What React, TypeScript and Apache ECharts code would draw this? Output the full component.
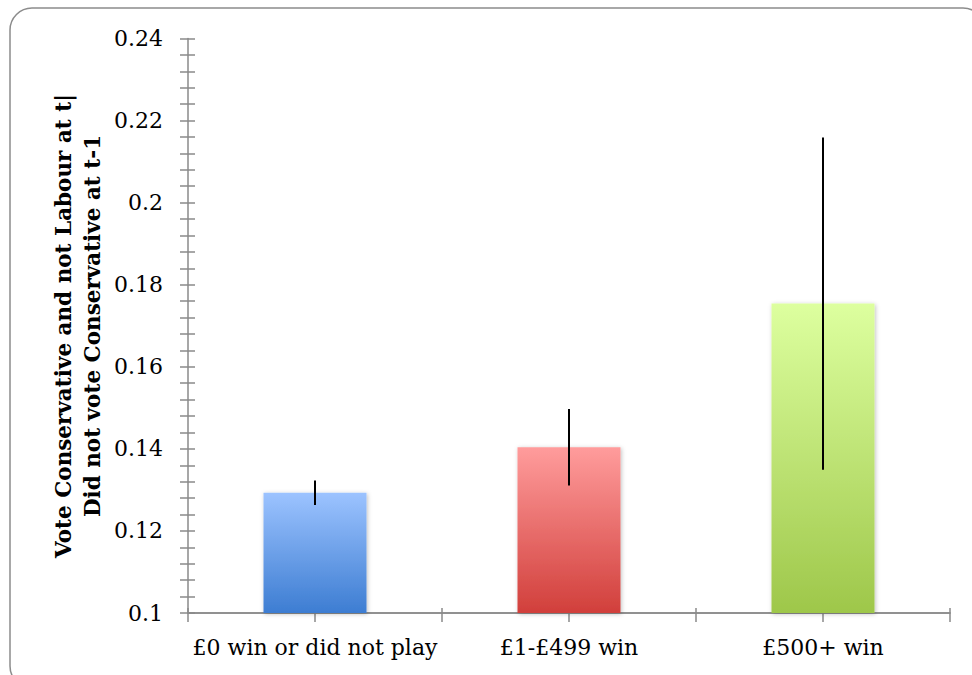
import React, { useEffect, useRef } from "react";
import * as echarts from "echarts";

const categories = ["£0 win or did not play", "£1-£499 win", "£500+ win"];
const values = [0.1293, 0.1404, 0.1754];
const errors = [0.003, 0.0093, 0.0405];
const topColors = ["#9CC3FF", "#FF9C9C", "#DDFF9F"];
const bottomColors = ["#3D7DD2", "#D13F3B", "#9EC74A"];
const yTitle = "Vote Conservative and not Labour at t|\nDid not vote Conservative at t-1";

const FONT = "DejaVu Serif";
const GREY = "#8a8a8a";

export default function App() {
  const ref = useRef<HTMLDivElement>(null);
  useEffect(() => {
    const chart = echarts.init(ref.current!, null, { renderer: "svg" });
    const barData = values.map((v, i) => ({
      value: v,
      itemStyle: {
        color: new echarts.graphic.LinearGradient(0, 0, 0, 1, [
          { offset: 0, color: topColors[i] },
          { offset: 1, color: bottomColors[i] },
        ]),
        shadowBlur: 4,
        shadowColor: "rgba(0,0,0,0.25)",
        shadowOffsetX: 1,
        shadowOffsetY: 1,
      },
    }));
    const errData = values.map((v, i) => [i, v - errors[i], v + errors[i]]);
    const tickAxis = (inside: boolean, len: number) => ({
      type: "value",
      position: "bottom",
      min: 0,
      max: 3,
      interval: 0.5,
      axisLine: { show: !inside, lineStyle: { color: GREY, width: 1.5 } },
      axisTick: { show: true, inside, length: len, lineStyle: { color: GREY, width: 1.5 } },
      axisLabel: { show: false },
      splitLine: { show: false },
    });
    chart.setOption({
      animation: false,
      backgroundColor: "#ffffff",
      grid: { left: 188, right: 22, top: 38.5, bottom: 62, containLabel: false },
      graphic: [
        {
          type: "rect",
          shape: { x: 10, y: 8, width: 975, height: 680, r: 22 },
          style: { fill: "none", stroke: "#8c8c8c", lineWidth: 1.5 },
          z: -10,
        },
        {
          type: "text",
          x: 78,
          y: 326,
          rotation: Math.PI / 2,
          style: {
            text: yTitle,
            font: `bold 21.5px "${FONT}"`,
            fill: "#000",
            align: "center",
            verticalAlign: "middle",
            lineHeight: 29,
          },
        },
      ],
      xAxis: [
        {
          type: "category",
          data: categories,
          position: "bottom",
          boundaryGap: true,
          axisLine: { show: true, lineStyle: { color: GREY, width: 1.5 } },
          axisTick: { show: false },
          axisLabel: { color: "#000", fontFamily: FONT, fontSize: 22, margin: 23, interval: 0 },
        },
        tickAxis(true, 5),
        tickAxis(false, 9),
      ],
      yAxis: [
        {
          type: "value",
          min: 0.1,
          max: 0.24,
          interval: 0.02,
          axisLine: { show: true, lineStyle: { color: GREY, width: 1.5 } },
          axisTick: { show: true, inside: true, length: 7, lineStyle: { color: GREY, width: 1.5 } },
          minorTick: { show: true, splitNumber: 5, length: 7, lineStyle: { color: GREY, width: 1.5 } },
          axisLabel: {
            color: "#000",
            fontFamily: FONT,
            fontSize: 22,
            margin: 25,
            formatter: (v: number) => String(parseFloat(v.toFixed(2))),
          },
          splitLine: { show: false },
        },
        {
          type: "value",
          position: "left",
          min: 0.1,
          max: 0.24,
          interval: 0.02,
          axisLine: { show: false },
          axisTick: { show: true, inside: false, length: 8, lineStyle: { color: GREY, width: 1.5 } },
          minorTick: { show: true, splitNumber: 5, length: 8, lineStyle: { color: GREY, width: 1.5 } },
          axisLabel: { show: false },
          splitLine: { show: false },
        },
      ],
      series: [
        {
          type: "bar",
          xAxisIndex: 0,
          yAxisIndex: 0,
          data: barData,
          barWidth: 103,
          z: 2,
        },
        {
          type: "custom",
          xAxisIndex: 0,
          yAxisIndex: 0,
          data: errData,
          z: 5,
          renderItem: (params: any, api: any) => {
            const lo = api.coord([api.value(0), api.value(1)]);
            const hi = api.coord([api.value(0), api.value(2)]);
            return {
              type: "line",
              shape: { x1: lo[0], y1: lo[1], x2: hi[0], y2: hi[1] },
              style: { stroke: "#000", lineWidth: 2 },
            };
          },
        },
      ],
    });
    return () => chart.dispose();
  }, []);
  return (
    <div
      ref={ref}
      style={{ position: "fixed", left: 0, top: 0, width: 972, height: 675, background: "#fff" }}
    />
  );
}
